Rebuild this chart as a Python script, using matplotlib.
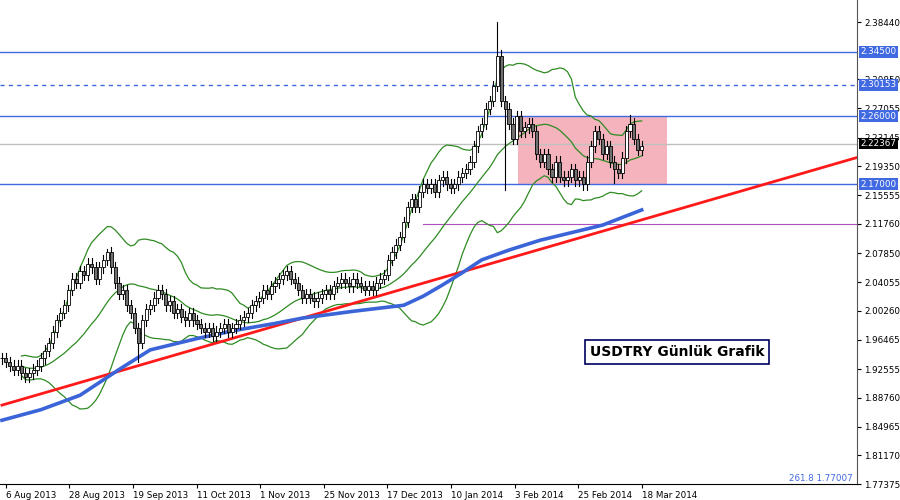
import matplotlib
matplotlib.use("Agg")
import matplotlib.pyplot as plt
import numpy as np
from matplotlib.patches import Rectangle

closes = [1.94,1.935,1.93,1.925,1.93,1.92,1.915,1.92,1.925,1.93,
          1.94,1.95,1.96,1.975,1.99,2.0,2.01,2.03,2.045,2.04,
          2.055,2.05,2.065,2.06,2.045,2.06,2.07,2.08,2.06,2.04,
          2.025,2.03,2.01,2.0,1.98,1.96,1.99,2.005,2.01,2.02,
          2.03,2.025,2.01,2.015,2.0,2.005,1.995,1.99,2.0,1.99,
          1.985,1.98,1.975,1.98,1.97,1.975,1.98,1.985,1.975,1.98,
          1.985,1.99,1.995,2.0,2.01,2.015,2.02,2.03,2.025,2.035,
          2.04,2.045,2.05,2.055,2.045,2.04,2.03,2.02,2.025,2.02,
          2.015,2.02,2.025,2.03,2.025,2.035,2.04,2.045,2.04,2.035,
          2.045,2.04,2.035,2.03,2.035,2.03,2.04,2.045,2.05,2.07,
          2.08,2.09,2.1,2.12,2.14,2.15,2.14,2.16,2.17,2.165,
          2.17,2.16,2.175,2.18,2.17,2.165,2.17,2.18,2.185,2.19,
          2.2,2.22,2.24,2.25,2.27,2.28,2.3,2.34,2.28,2.27,
          2.25,2.23,2.26,2.24,2.245,2.25,2.24,2.21,2.2,2.21,
          2.19,2.18,2.2,2.18,2.175,2.18,2.19,2.175,2.18,2.17,
          2.2,2.22,2.24,2.23,2.21,2.22,2.2,2.19,2.185,2.205,
          2.24,2.25,2.23,2.215,2.22]
high_extremes = {127: 2.385, 161: 2.262, 27: 2.085}
low_extremes = {129: 2.162, 35: 1.935, 157: 2.172}

ma_bars = [0, 10, 20, 30, 38, 50, 60, 70, 77, 90, 103, 108, 113, 118, 123, 130, 138, 146, 154, 164]
ma_vals = [1.858, 1.872, 1.891, 1.925, 1.951, 1.966, 1.977, 1.986, 1.993, 2.002, 2.01, 2.022,
           2.037, 2.053, 2.07, 2.083, 2.096, 2.106, 2.116, 2.136]

trend_bars = [0, 219]
trend_vals = [1.878, 2.205]

hlines_solid = [2.345, 2.26, 2.17]
hline_dashed = 2.30153
last_price = 2.22367
purple_level = 2.118

yticks = [2.38440, 2.30850, 2.27055, 2.23145, 2.19350, 2.15555, 2.11760, 2.07850,
          2.04055, 2.00260, 1.96465, 1.92555, 1.88760, 1.84965, 1.81170, 1.77375]
xtick_labels = ["6 Aug 2013", "28 Aug 2013", "19 Sep 2013", "11 Oct 2013", "1 Nov 2013",
                "25 Nov 2013", "17 Dec 2013", "10 Jan 2014", "3 Feb 2014", "25 Feb 2014", "18 Mar 2014"]
xtick_bars = [1, 17.3, 33.6, 49.9, 66.2, 82.5, 98.8, 115.1, 131.4, 147.7, 164]

fig = plt.figure(figsize=(9, 5), dpi=100)
ax = fig.add_axes([0, 16/500, 857/900, 484/500])
c = np.array(closes)
n = len(c)
o = np.concatenate([[c[0]], c[:-1]])
hi = np.maximum(o, c) + 0.007
lo = np.minimum(o, c) - 0.007
for k, v in high_extremes.items(): hi[k] = v
for k, v in low_extremes.items(): lo[k] = v
x = np.arange(n)

ax.add_patch(Rectangle((132.4, 2.17), 38, 0.09, facecolor="#f4a6b2", edgecolor="none", alpha=0.85, zorder=1))
for lv in hlines_solid:
    ax.axhline(lv, color="#4169e1", lw=1, zorder=2)
ax.axhline(hline_dashed, color="#4169e1", lw=1, ls=(0, (3, 3)), zorder=2)
ax.axhline(last_price, color="#c0c0c0", lw=1, zorder=2)
ax.plot([108, 219], [purple_level, purple_level], color="#b04fc0", lw=0.8, zorder=2)

s = np.array([c[max(0, i-19):i+1].mean() for i in range(n)])
sd = np.array([c[max(0, i-19):i+1].std() for i in range(n)])
st = 5
for band in (s, s+2*sd, s-2*sd):
    ax.plot(x[st:], band[st:], color="#2e8b22", lw=0.9, zorder=3)

ax.plot(trend_bars, trend_vals, color="#ff1a1a", lw=2, zorder=4)
ax.plot(ma_bars, ma_vals, color="#3a64d8", lw=2.6, zorder=4)

for i in range(n):
    ax.plot([i, i], [lo[i], hi[i]], color="black", lw=0.8, zorder=5)
    b0, b1 = min(o[i], c[i]), max(o[i], c[i])
    ax.add_patch(Rectangle((i-0.4, b0), 0.8, max(b1-b0, 0.0008),
                           facecolor="white" if c[i] >= o[i] else "#707070",
                           edgecolor="black", lw=0.6, zorder=6))

ax.set_xlim(-0.5, 219.2)
ax.set_ylim(1.77375, 2.4135)
ax.yaxis.tick_right()
ax.set_yticks(yticks)
ax.set_yticklabels([f"{v:.5f}" for v in yticks], fontsize=6.3)
ax.set_xticks(xtick_bars)
ax.set_xticklabels(xtick_labels, fontsize=6.3, ha="left")
ax.tick_params(axis="both", length=3, pad=2)
for sp in ["top", "left"]:
    ax.spines[sp].set_visible(False)
ax.spines["bottom"].set_linestyle((0, (2, 1)))
ax.spines["right"].set_color("#555555")

for lv in hlines_solid + [hline_dashed]:
    ax.text(1.004, lv, f"{lv:.5f}", transform=ax.get_yaxis_transform(), fontsize=6.3, color="white",
            va="center", ha="left", zorder=10,
            bbox=dict(boxstyle="square,pad=0.15", fc="#4169e1", ec="none"), clip_on=False)
ax.text(1.004, last_price, f"{last_price:.5f}", transform=ax.get_yaxis_transform(), fontsize=6.3, color="white",
        va="center", ha="left", zorder=10,
        bbox=dict(boxstyle="square,pad=0.15", fc="black", ec="none"), clip_on=False)

ax.text(0.995, 1.7745, "261.8 1.77007", transform=ax.get_yaxis_transform(), fontsize=6.3,
        color="#4169e1", ha="right", va="bottom")

fig.text(590/900, 1-352/500, "USDTRY Günlük Grafik", fontsize=10, fontweight="bold", va="center", ha="left",
         bbox=dict(boxstyle="square,pad=0.35", fc="white", ec="#000060", lw=1.2))

fig.savefig("out.png", dpi=100)
